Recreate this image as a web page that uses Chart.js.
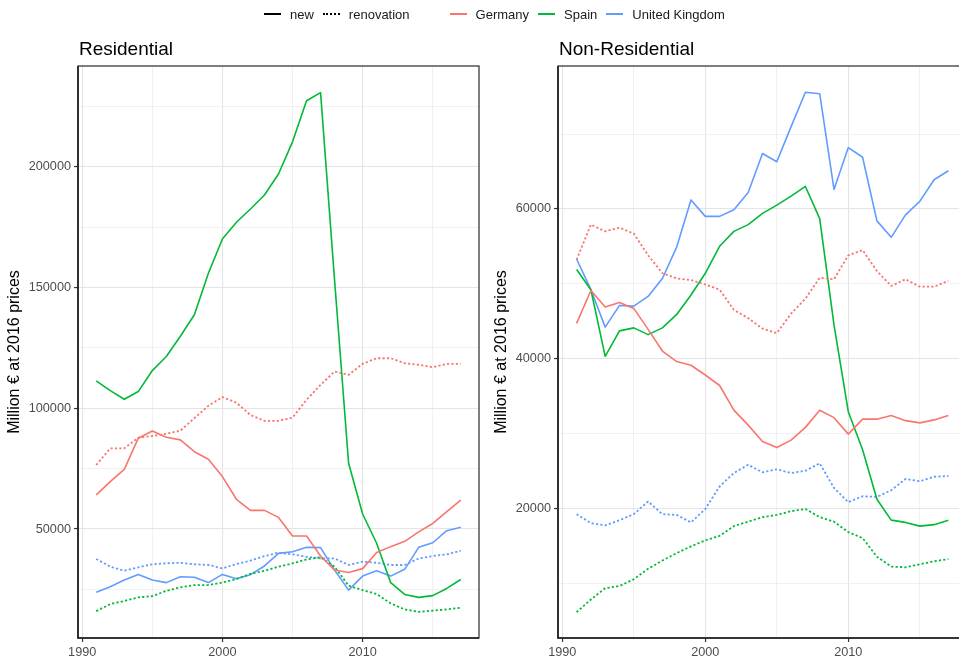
<!DOCTYPE html>
<html>
<head>
<meta charset="utf-8">
<script src="https://cdn.jsdelivr.net/npm/chart.js@4.4.1/dist/chart.umd.min.js"></script>
<style>
  html, body { margin: 0; padding: 0; background: #fff; overflow: hidden; width: 959px; height: 659px; }
  #wrap { position: relative; width: 959px; height: 659px; overflow: hidden; }
  canvas { position: absolute; top: 0; }
  #legend { position: absolute; top: 5px; left: 264px; height: 18px; display: flex; align-items: center;
            font-family: "Liberation Sans", Arial, sans-serif; font-size: 13px; color: #1a1a1a; white-space: nowrap; }
  .key { display: inline-block; width: 17px; height: 0; border-top-width: 2px; border-top-style: solid; margin-right: 9px; }
  .lab { margin-right: 9px; }
</style>
</head>
<body>
<div id="wrap">
  <canvas id="res" width="482" height="659" style="left:0"></canvas>
  <canvas id="nonres" width="500" height="659" style="left:480px"></canvas>
  <div id="legend"></div>
</div>
<script>
// Years covered by both panels
const years = [1991, 1992, 1993, 1994, 1995, 1996, 1997, 1998, 1999, 2000, 2001, 2002, 2003, 2004,
               2005, 2006, 2007, 2008, 2009, 2010, 2011, 2012, 2013, 2014, 2015, 2016, 2017];

// Tick labels
const yearTicks = [1990, 2000, 2010];
const resTicks = [50000, 100000, 150000, 200000];
const nonResTicks = [20000, 40000, 60000];

// Residential construction, million EUR at 2016 prices
const resGermanyNew = [64100, 69600, 74700, 87600, 90600, 88000, 86900, 82000, 78900, 71700, 62300, 57700, 57700, 54800, 47100, 47100, 38800, 33000, 32000, 33600, 40300, 42700, 44900, 48800, 52300, 57200, 62000];
const resGermanyRen = [76500, 83400, 83400, 87800, 88500, 89400, 90700, 95900, 101000, 104600, 102300, 97200, 94800, 94800, 96100, 103500, 109700, 115200, 113800, 118400, 120700, 120700, 118600, 118000, 117000, 118400, 118400];
const resSpainNew = [111300, 107300, 103700, 106900, 115600, 121400, 129800, 138700, 155900, 170100, 177000, 182500, 188300, 197000, 210300, 227300, 230700, 153000, 77200, 56200, 44100, 27800, 22900, 21700, 22400, 25400, 29100];
const resSpainRen = [16000, 18900, 20200, 21700, 22200, 24400, 25800, 26800, 26800, 27800, 29300, 31400, 32700, 34400, 35800, 37400, 38300, 34400, 26500, 24700, 23100, 19200, 16700, 15700, 16200, 16700, 17400];
const resUKNew = [23800, 26100, 28900, 31200, 28900, 27800, 30200, 30000, 27800, 31200, 29400, 31100, 34700, 39900, 40600, 42400, 42300, 33000, 24700, 30500, 32700, 30500, 33300, 42400, 44300, 49300, 50700];
const resUKRen = [37600, 34400, 32700, 34100, 35400, 35800, 36000, 35400, 35100, 33700, 35500, 36900, 38800, 40200, 39500, 38500, 37800, 37800, 35100, 36500, 36000, 35100, 35100, 37800, 38800, 39500, 41000];

// Non-residential construction, million EUR at 2016 prices
const nrGermanyNew = [44700, 49100, 46900, 47500, 46700, 43900, 41000, 39600, 39100, 37800, 36400, 33100, 31100, 28900, 28100, 29100, 30800, 33100, 32100, 29900, 31900, 31900, 32400, 31700, 31400, 31800, 32400];
const nrGermanyRen = [53200, 57900, 57000, 57500, 56700, 53800, 51400, 50700, 50500, 49900, 49200, 46500, 45400, 44000, 43400, 46000, 48000, 50800, 50600, 53800, 54500, 51700, 49700, 50600, 49600, 49600, 50400];
const nrSpainNew = [51900, 49200, 40300, 43700, 44100, 43200, 44100, 45900, 48500, 51400, 55000, 57000, 57900, 59400, 60500, 61700, 63000, 58700, 44500, 32900, 27800, 21200, 18400, 18100, 17600, 17800, 18400];
const nrSpainRen = [6100, 7800, 9300, 9600, 10500, 11900, 13000, 14000, 14900, 15700, 16300, 17600, 18200, 18800, 19100, 19600, 19900, 18800, 18200, 16800, 16000, 13500, 12200, 12100, 12500, 12900, 13200];
const nrUKNew = [53300, 49200, 44200, 47100, 47000, 48300, 50700, 54900, 61200, 59000, 59000, 59900, 62200, 67400, 66300, 71000, 75600, 75400, 62600, 68200, 66900, 58400, 56200, 59200, 61000, 63900, 65100];
const nrUKRen = [19200, 18000, 17700, 18400, 19200, 20900, 19200, 19100, 18100, 19900, 22900, 24700, 25800, 24800, 25200, 24700, 25000, 26000, 22700, 20800, 21600, 21500, 22400, 23900, 23600, 24200, 24300];

const countries = ['Germany', 'Spain', 'United Kingdom'];
const colors = { 'Germany': '#F8766D', 'Spain': '#00BA38', 'United Kingdom': '#619CFF' };
const FONT = '"Liberation Sans", Arial, Helvetica, sans-serif';
const DOT = [2.2, 2.2];

// Legend
(function buildLegend() {
  const lg = document.getElementById('legend');
  const item = (style, text, extra) => {
    const k = document.createElement('span');
    k.className = 'key';
    k.style.borderTopColor = style.color;
    k.style.borderTopStyle = style.dash ? 'dotted' : 'solid';
    lg.appendChild(k);
    const t = document.createElement('span');
    t.className = 'lab';
    t.textContent = text;
    if (extra) t.style.marginRight = extra + 'px';
    lg.appendChild(t);
  };
  item({ color: '#000' }, 'new');
  item({ color: '#000', dash: true }, 'renovation', 40);
  countries.forEach(c => item({ color: colors[c] }, c));
})();

// Minor breaks sit halfway between labelled breaks (and one step beyond each end)
function withMinors(major) {
  const step = major[1] - major[0];
  const out = [];
  for (let v = major[0] - step; v <= major[major.length - 1] + step; v += step / 2) out.push(v);
  return out;
}

// Panel border and title
const panelPlugin = {
  id: 'panel',
  afterDraw(chart, args, opts) {
    const { ctx, chartArea: a } = chart;
    ctx.save();
    ctx.strokeStyle = '#3a3a3a';
    ctx.lineWidth = 1.3;
    ctx.strokeRect(a.left, a.top, a.right - a.left, a.bottom - a.top);
    ctx.strokeStyle = '#1f1f1f';
    ctx.lineWidth = 1.6;
    ctx.beginPath();
    ctx.moveTo(a.left, a.top);
    ctx.lineTo(a.left, a.bottom);
    ctx.lineTo(a.right, a.bottom);
    ctx.stroke();
    ctx.fillStyle = '#000';
    ctx.font = '19px ' + FONT;
    ctx.textBaseline = 'alphabetic';
    ctx.textAlign = 'left';
    ctx.fillText(opts.text, a.left + 1, 55);
    ctx.restore();
  }
};

function series(country, values, dashed) {
  return {
    label: country + (dashed ? ' renovation' : ' new'),
    data: years.map((yr, i) => ({ x: yr, y: values[i] })),
    borderColor: colors[country],
    backgroundColor: colors[country],
    borderWidth: dashed ? 1.8 : 1.6,
    borderDash: dashed ? DOT : [],
    borderJoinStyle: 'round',
    pointRadius: 0,
    tension: 0,
    fill: false
  };
}

function makeChart(id, title, datasets, yMin, yMax, yMajor, rightPad, titlePad) {
  const xMinor = withMinors(yearTicks);
  const yAll = withMinors(yMajor).filter(v => v > yMin && v < yMax);
  const isMajorX = v => yearTicks.includes(v);
  const isMajorY = v => yMajor.includes(v);
  return new Chart(document.getElementById(id), {
    type: 'line',
    data: { datasets },
    options: {
      responsive: false,
      animation: false,
      devicePixelRatio: 1,
      layout: { padding: { top: 66, right: rightPad, left: 0, bottom: 0 } },
      plugins: { legend: { display: false }, tooltip: { enabled: false }, panel: { text: title } },
      scales: {
        x: {
          type: 'linear',
          min: 1989.7, max: 2018.3,
          afterFit(s) { s.height = 21; },
          afterBuildTicks(s) { s.ticks = xMinor.filter(v => v > s.min && v < s.max).map(v => ({ value: v })); },
          border: { display: false },
          grid: {
            color: c => isMajorX(c.tick && c.tick.value) ? '#e4e4e4' : '#ebebeb',
            lineWidth: c => isMajorX(c.tick && c.tick.value) ? 1.1 : 0.7,
            drawTicks: true,
            tickLength: 4,
            tickColor: c => isMajorX(c.tick && c.tick.value) ? '#333' : 'rgba(0,0,0,0)',
            tickWidth: 1.2
          },
          ticks: {
            autoSkip: false, maxRotation: 0, padding: 3,
            color: '#4d4d4d', font: { family: FONT, size: 12.7 },
            callback: v => isMajorX(v) ? String(v) : ''
          }
        },
        y: {
          type: 'linear',
          min: yMin, max: yMax,
          afterFit(s) { s.width = 78; },
          afterBuildTicks(s) { s.ticks = yAll.map(v => ({ value: v })); },
          border: { display: false },
          grid: {
            color: c => isMajorY(c.tick && c.tick.value) ? '#e4e4e4' : '#ebebeb',
            lineWidth: c => isMajorY(c.tick && c.tick.value) ? 1.1 : 0.7,
            drawTicks: true,
            tickLength: 4,
            tickColor: c => isMajorY(c.tick && c.tick.value) ? '#333' : 'rgba(0,0,0,0)',
            tickWidth: 1.2
          },
          ticks: {
            autoSkip: false, padding: 3,
            color: '#4d4d4d', font: { family: FONT, size: 12.7 },
            callback: v => isMajorY(v) ? String(v) : ''
          },
          title: {
            display: true,
            text: 'Million € at 2016 prices',
            color: '#000',
            font: { family: FONT, size: 16 },
            padding: { top: titlePad, bottom: 0 }
          }
        }
      }
    },
    plugins: [panelPlugin]
  });
}

makeChart('res', 'Residential', [
  series('Germany', resGermanyNew, false),
  series('Germany', resGermanyRen, true),
  series('Spain', resSpainNew, false),
  series('Spain', resSpainRen, true),
  series('United Kingdom', resUKNew, false),
  series('United Kingdom', resUKRen, true)
], 4870, 241700, resTicks, 3, 5);

makeChart('nonres', 'Non-Residential', [
  series('Germany', nrGermanyNew, false),
  series('Germany', nrGermanyRen, true),
  series('Spain', nrSpainNew, false),
  series('Spain', nrSpainRen, true),
  series('United Kingdom', nrUKNew, false),
  series('United Kingdom', nrUKRen, true)
], 2650, 79100, nonResTicks, 13, 12);
</script>
</body>
</html>
